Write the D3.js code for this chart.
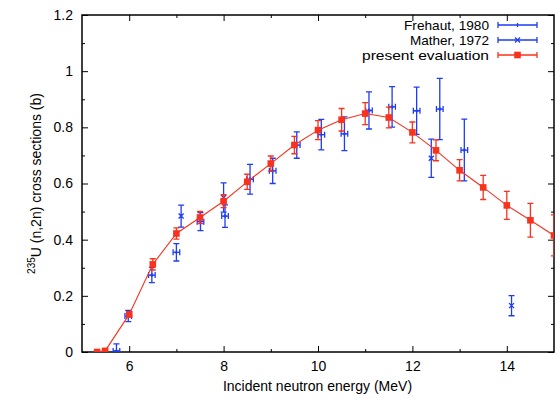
<!DOCTYPE html>
<html><head><meta charset="utf-8">
<script src="https://cdn.jsdelivr.net/npm/d3@7"></script>
<style>
html,body{margin:0;padding:0;background:#fff;}
svg{display:block;font-family:"Liberation Sans",Arial,Helvetica,sans-serif;}
</style></head><body>
<svg id="c" width="557" height="401"></svg>
<script>
// ---- data ----
const evalE   = [5.32, 5.49, 6.0, 6.5, 7.0, 7.5, 8.0, 8.5, 9.0, 9.5, 10.0, 10.5, 11.0, 11.5, 12.0, 12.5, 13.0, 13.5, 14.0, 14.5, 15.0];
const evalXS  = [0, 0.004, 0.134, 0.312, 0.422, 0.479, 0.537, 0.606, 0.671, 0.737, 0.79, 0.827, 0.849, 0.835, 0.782, 0.718, 0.647, 0.586, 0.522, 0.469, 0.415];
const evalErr = [0, 0.003, 0.01, 0.02, 0.02, 0.022, 0.023, 0.027, 0.027, 0.031, 0.034, 0.04, 0.039, 0.037, 0.037, 0.037, 0.038, 0.043, 0.05, 0.06, 0.073];

const frehautE   = [5.73, 5.98, 6.48, 7.0, 7.51, 8.03, 8.56, 9.04, 9.55, 10.07, 10.56, 11.08, 11.57, 12.09, 12.58, 13.1];
const frehautXS  = [0.004, 0.128, 0.274, 0.355, 0.464, 0.484, 0.615, 0.645, 0.737, 0.774, 0.777, 0.86, 0.873, 0.859, 0.865, 0.719];
const frehautErr = [0.025, 0.02, 0.027, 0.031, 0.032, 0.04, 0.053, 0.045, 0.047, 0.054, 0.06, 0.066, 0.072, 0.084, 0.109, 0.11];
const frehautDE  = [0.07, 0.07, 0.07, 0.07, 0.07, 0.07, 0.07, 0.07, 0.07, 0.07, 0.07, 0.07, 0.07, 0.07, 0.07, 0.07];

const matherE   = [7.1, 8.0, 12.4, 14.1];
const matherXS  = [0.484, 0.55, 0.69, 0.165];
const matherErr = [0.039, 0.052, 0.068, 0.036];

const xMajor = [6, 8, 10, 12, 14];
const xMinor = [7, 9, 11, 13];
const yMajor = [0, 0.2, 0.4, 0.6, 0.8, 1, 1.2];
const yMinor = [0.1, 0.3, 0.5, 0.7, 0.9, 1.1];
const legendLabels = ["Frehaut, 1980", "Mather, 1972", "present evaluation"];

// ---- layout ----
const L = 82, R = 554, T = 15, B = 352;
const FS = 14;
const RED = "#f8321e", BLUE = "#1e3cf5";
const svg = d3.select("#c");
const x = d3.scaleLinear().domain([5, 15]).range([L, R]);
const y = d3.scaleLinear().domain([0, 1.2]).range([B, T]);

svg.append("defs").append("clipPath").attr("id", "clip")
  .append("rect").attr("x", L).attr("y", T).attr("width", R - L).attr("height", B - T);

const fmtY = v => v === 0 ? "0" : (v === 1 ? "1" : d3.format(".1f")(v));

// axes (ticks inward)
svg.append("g").attr("transform", `translate(0,${B})`)
  .call(d3.axisBottom(x).tickValues(xMajor).tickSize(-6).tickPadding(9).tickFormat(d3.format("d")));
svg.append("g").attr("transform", `translate(0,${B})`)
  .call(d3.axisBottom(x).tickValues(xMinor).tickSize(-3).tickFormat(""));
svg.append("g").attr("transform", `translate(0,${T})`)
  .call(d3.axisTop(x).tickValues(xMajor).tickSize(-6).tickFormat(""));
svg.append("g").attr("transform", `translate(0,${T})`)
  .call(d3.axisTop(x).tickValues(xMinor).tickSize(-3).tickFormat(""));
svg.append("g").attr("transform", `translate(${L},0)`)
  .call(d3.axisLeft(y).tickValues(yMajor).tickSize(-6).tickPadding(9).tickFormat(fmtY));
svg.append("g").attr("transform", `translate(${L},0)`)
  .call(d3.axisLeft(y).tickValues(yMinor).tickSize(-3).tickFormat(""));
svg.append("g").attr("transform", `translate(${R},0)`)
  .call(d3.axisRight(y).tickValues(yMajor).tickSize(-6).tickFormat(""));
svg.append("g").attr("transform", `translate(${R},0)`)
  .call(d3.axisRight(y).tickValues(yMinor).tickSize(-3).tickFormat(""));
svg.selectAll(".domain").remove();
svg.selectAll(".tick line").attr("stroke", "#000").attr("stroke-width", 1);
svg.selectAll(".tick text").attr("font-size", FS).attr("fill", "#000")
  .attr("font-family", "Liberation Sans, Arial, sans-serif");

// frame
svg.append("rect").attr("x", L).attr("y", T).attr("width", R - L).attr("height", B - T)
  .attr("fill", "none").attr("stroke", "#000").attr("stroke-width", 1.5);

// axis labels
svg.append("text").attr("x", (L + R) / 2 - 0.5).attr("y", 391).attr("text-anchor", "middle")
  .attr("font-size", FS).text("Incident neutron energy (MeV)");
const yl = svg.append("text").attr("transform", `translate(41,${(T + B) / 2}) rotate(-90)`)
  .attr("text-anchor", "middle").attr("font-size", FS);
yl.append("tspan").attr("font-size", 10).attr("dy", -6).text("235");
yl.append("tspan").attr("dy", 6).text("U (n,2n) cross sections (b)");

const plot = svg.append("g").attr("clip-path", "url(#clip)");
const cap = 3;

// Frehaut: xy error bars with small + marker
const fre = frehautE.map((e, i) => ({e, v: frehautXS[i], dv: frehautErr[i], de: frehautDE[i]}));
const gF = plot.append("g").attr("stroke", BLUE).attr("stroke-width", 1.3).attr("fill", "none");
fre.forEach(d => {
  const cx = x(d.e), cy = y(d.v), y1 = y(d.v + d.dv), y0 = y(d.v - d.dv);
  const x0 = x(d.e - d.de), x1 = x(d.e + d.de);
  gF.append("path").attr("d",
    `M${cx},${y0}V${y1}M${cx - cap},${y1}H${cx + cap}M${cx - cap},${y0}H${cx + cap}` +
    `M${x0},${cy}H${x1}M${x0},${cy - cap}V${cy + cap}M${x1},${cy - cap}V${cy + cap}`);
  gF.append("path").attr("d", `M${cx - 2},${cy}H${cx + 2}M${cx},${cy - 2}V${cy + 2}`);
});

// Mather: y error bars with x marker
const mat = matherE.map((e, i) => ({e, v: matherXS[i], dv: matherErr[i]}));
const gM = plot.append("g").attr("stroke", BLUE).attr("stroke-width", 1.3).attr("fill", "none");
mat.forEach(d => {
  const cx = x(d.e), cy = y(d.v), y1 = y(d.v + d.dv), y0 = y(d.v - d.dv);
  gM.append("path").attr("d",
    `M${cx},${y0}V${y1}M${cx - cap},${y1}H${cx + cap}M${cx - cap},${y0}H${cx + cap}` +
    `M${cx - 2.5},${cy - 2.5}L${cx + 2.5},${cy + 2.5}M${cx - 2.5},${cy + 2.5}L${cx + 2.5},${cy - 2.5}`);
});

// present evaluation
const ev = evalE.map((e, i) => ({e, v: evalXS[i], dv: evalErr[i]}));
const gE = plot.append("g");
gE.append("path").datum(ev).attr("fill", "none").attr("stroke", RED).attr("stroke-width", 1.1)
  .attr("d", d3.line().x(d => x(d.e)).y(d => y(d.v)));
ev.forEach(d => {
  if (d.dv <= 0.005) return;
  const cx = x(d.e), y1 = y(d.v + d.dv), y0 = y(d.v - d.dv);
  gE.append("path").attr("stroke", RED).attr("stroke-width", 1.3).attr("fill", "none")
    .attr("d", `M${cx},${y0}V${y1}M${cx - cap},${y1}H${cx + cap}M${cx - cap},${y0}H${cx + cap}`);
});
gE.selectAll("rect").data(ev).join("rect")
  .attr("x", d => x(d.e) - 3.3).attr("y", d => y(d.v) - 3.3)
  .attr("width", 6.6).attr("height", 6.6).attr("fill", RED);

// legend
const lg = svg.append("g");
const rows = [25, 40, 55];
const sx0 = 498, sx1 = 537, smid = 517.5;
legendLabels.forEach((t, i) => {
  const cy = rows[i];
  lg.append("text").attr("x", 489).attr("y", cy + 4.5).attr("text-anchor", "end")
    .attr("font-size", 13).attr("textLength", [85, 79, 127][i]).attr("lengthAdjust", "spacingAndGlyphs")
    .text(t);
  const col = i < 2 ? BLUE : RED;
  lg.append("path").attr("stroke", col).attr("stroke-width", 1.3).attr("fill", "none")
    .attr("d", `M${sx0},${cy}H${sx1}M${sx0},${cy - cap}V${cy + cap}M${sx1},${cy - cap}V${cy + cap}`);
  if (i === 0) lg.append("path").attr("stroke", col).attr("stroke-width", 1.3)
    .attr("d", `M${smid},${cy - 2}V${cy + 2}`);
  if (i === 1) lg.append("path").attr("stroke", col).attr("stroke-width", 1.3)
    .attr("d", `M${smid - 2.5},${cy - 2.5}L${smid + 2.5},${cy + 2.5}M${smid - 2.5},${cy + 2.5}L${smid + 2.5},${cy - 2.5}`);
  if (i === 2) lg.append("rect").attr("x", smid - 3.3).attr("y", cy - 3.3)
    .attr("width", 6.6).attr("height", 6.6).attr("fill", col);
});
</script>
</body></html>
